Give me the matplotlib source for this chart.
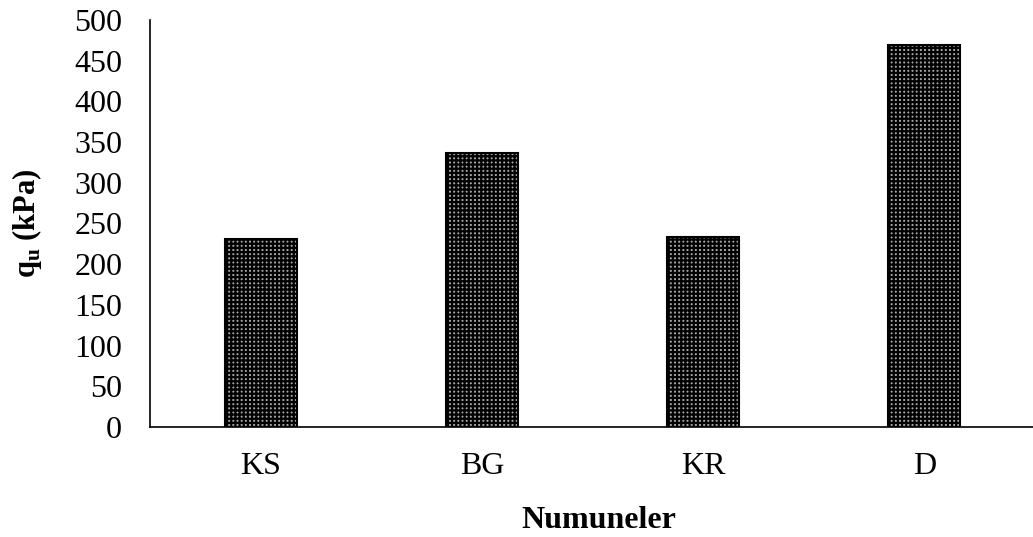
import matplotlib.pyplot as plt
import matplotlib as mpl

samples = ['KS', 'BG', 'KR', 'D']
qu_kpa = [231, 336, 233, 469]
y_ticks = [0, 50, 100, 150, 200, 250, 300, 350, 400, 450, 500]

plt.rcParams['font.family'] = ['Liberation Serif', 'DejaVu Serif']
mpl.rcParams['mathtext.fontset'] = 'custom'
mpl.rcParams['mathtext.bf'] = 'Liberation Serif:bold'
mpl.rcParams['mathtext.rm'] = 'Liberation Serif'
mpl.rcParams['hatch.color'] = 'black'
mpl.rcParams['hatch.linewidth'] = 1.6

fig = plt.figure(figsize=(10.33, 5.37), dpi=100)
ax = fig.add_axes([150/1033, 1 - 427/537, 885/1033, 407/537])

ax.bar(range(len(samples)), qu_kpa, width=0.325, color='#a8a8a8',
       edgecolor='black', linewidth=1.5, hatch='++++', zorder=2)

ax.set_xlim(-0.5, len(samples) - 0.5)
ax.set_ylim(0, 500)
ax.set_yticks(y_ticks)
ax.set_xticks(range(len(samples)))
ax.set_xticklabels(samples)
ax.tick_params(axis='both', length=0, labelsize=23, colors='black')
ax.tick_params(axis='y', pad=20)
ax.tick_params(axis='x', pad=18)

for side in ['top', 'right']:
    ax.spines[side].set_visible(False)
for side in ['left', 'bottom']:
    ax.spines[side].set_linewidth(1.2)

ax.set_xlabel('Numuneler', fontsize=23, fontweight='bold')
ax.xaxis.set_label_coords(0.507, -0.195)
ax.set_ylabel(r'q$_\mathbf{u}$ (kPa)', fontsize=22, fontweight='bold', labelpad=22)

fig.savefig('out.png', dpi=100)
